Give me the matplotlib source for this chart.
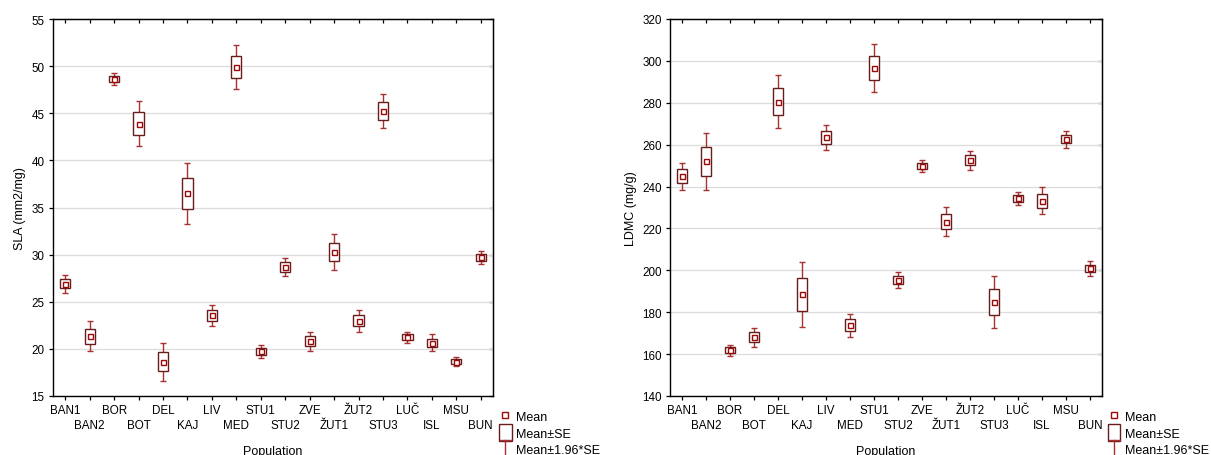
import matplotlib
matplotlib.use("Agg")
import matplotlib.pyplot as plt
import numpy as np
from matplotlib.legend_handler import HandlerBase
from matplotlib.lines import Line2D
from matplotlib.patches import Rectangle

populations = ["BAN1", "BAN2", "BOR", "BOT", "DEL", "KAJ", "LIV", "MED", "STU1",
               "STU2", "ZVE", "ŽUT1", "ŽUT2", "STU3", "LUČ", "ISL", "MSU", "BUN"]
sla_mean = [26.9, 21.35, 48.6, 43.9, 18.65, 36.5, 23.55, 49.9, 19.75,
            28.7, 20.8, 30.3, 23.0, 45.25, 21.25, 20.65, 18.65, 29.7]
sla_se = [0.47, 0.8, 0.33, 1.23, 1.03, 1.66, 0.56, 1.2, 0.35,
          0.5, 0.52, 0.96, 0.6, 0.92, 0.3, 0.45, 0.24, 0.36]
ldmc_mean = [245.0, 252.0, 161.8, 168.0, 280.5, 188.5, 263.5, 173.8, 296.5,
             195.5, 249.8, 223.3, 252.6, 185.0, 234.3, 233.3, 262.7, 200.9]
ldmc_se = [3.3, 7.0, 1.4, 2.4, 6.4, 7.85, 3.05, 2.85, 5.85,
           2.0, 1.52, 3.52, 2.3, 6.3, 1.5, 3.35, 2.07, 1.85]
ci_factor = 1.96

sla_ticks = [15, 20, 25, 30, 35, 40, 45, 50, 55]
ldmc_ticks = [140, 160, 180, 200, 220, 240, 260, 280, 300, 320]

BOX_C = "#6a1c1c"
WHISK_C = "#a83232"
MEAN_C = "#9b0a0a"
FS = 8.4
FS_L = 9.0

plt.rcParams["font.family"] = ["Liberation Sans", "DejaVu Sans"]
plt.rcParams["font.size"] = FS

W, H = 1211, 456
fig = plt.figure(figsize=(W / 100, H / 100), dpi=100)


class HandlerMean(HandlerBase):
    def create_artists(self, legend, orig, xd, yd, w, h, fs, trans):
        s = 4.2
        r = Rectangle((w / 2 - s / 2, h / 2 - s / 2 + 1), s, s, facecolor="white",
                      edgecolor=MEAN_C, lw=1.0, transform=trans)
        return [r]


class HandlerBox(HandlerBase):
    def create_artists(self, legend, orig, xd, yd, w, h, fs, trans):
        bw, bh = 9.0, 12.0
        r = Rectangle((w / 2 - bw / 2, h / 2 - bh / 2), bw, bh, facecolor="white",
                      edgecolor=BOX_C, lw=1.0, transform=trans)
        return [r]


class HandlerT(HandlerBase):
    def create_artists(self, legend, orig, xd, yd, w, h, fs, trans):
        top = h / 2 + 6
        l1 = Line2D([w / 2, w / 2], [h / 2 - 8, top], color=WHISK_C, lw=1.0, transform=trans)
        l2 = Line2D([w / 2 - 4, w / 2 + 4], [top, top], color=WHISK_C, lw=1.0, transform=trans)
        return [l1, l2]


def panel(rect, means, ses, ticks, ylabel):
    ax = fig.add_axes(rect)
    x = np.arange(len(populations))
    m = np.array(means)
    se = np.array(ses)
    ax.errorbar(x, m, yerr=ci_factor * se, fmt="none", ecolor=WHISK_C,
                elinewidth=1.0, capsize=2.2, capthick=1.0, zorder=2)
    ax.bar(x, 2 * se, bottom=m - se, width=0.42, facecolor="white",
           edgecolor=BOX_C, linewidth=1.0, zorder=3)
    ax.plot(x, m, ls="none", marker="s", ms=3.6, mfc="white", mec=MEAN_C,
            mew=1.0, zorder=4)
    ax.set_xlim(-0.5, len(populations) - 0.5)
    ax.set_ylim(ticks[0], ticks[-1])
    ax.set_yticks(ticks)
    ax.yaxis.grid(True, color="#dcdcdc", lw=0.9)
    ax.set_axisbelow(True)
    ax.set_xticks(x[0::2])
    ax.set_xticklabels(populations[0::2])
    ax.set_xticks(x[1::2], minor=True)
    ax.set_xticklabels(populations[1::2], minor=True)
    ax.tick_params(axis="x", which="both", direction="out", length=3, width=0.9,
                   labelsize=FS, colors="black")
    ax.tick_params(axis="x", which="major", pad=3)
    ax.tick_params(axis="x", which="minor", pad=13.5)
    ax.tick_params(axis="y", direction="out", length=3, width=0.9, labelsize=FS, pad=3)
    for sp in ax.spines.values():
        sp.set_linewidth(1.0)
        sp.set_color("black")
    sx = ax.secondary_xaxis("top")
    sx.set_xticks(x)
    sx.tick_params(direction="in", length=3, width=0.9, labeltop=False)
    sy = ax.secondary_yaxis("right")
    sy.set_yticks(ticks)
    sy.tick_params(direction="in", length=3, width=0.9, labelright=False)
    ax.set_ylabel(ylabel, fontsize=FS_L, labelpad=4)
    ax.set_xlabel("Population", fontsize=FS_L)
    ax.xaxis.set_label_coords(0.5, -0.13)
    handles = [object(), object(), object()]
    ax.legend(handles, ["Mean", "Mean±SE", "Mean±1.96*SE"],
              handler_map={handles[0]: HandlerMean(), handles[1]: HandlerBox(),
                           handles[2]: HandlerT()},
              loc="upper left", bbox_to_anchor=(1.016, -0.041), frameon=False,
              handlelength=0.85, handletextpad=0.42, labelspacing=0.33,
              borderpad=0, borderaxespad=0, fontsize=FS_L)
    return ax


bottom = (H - 397) / H
height = 377 / H
panel([53 / W, bottom, 440 / W, height], sla_mean, sla_se, sla_ticks, "SLA (mm2/mg)")
panel([670 / W, bottom, 432 / W, height], ldmc_mean, ldmc_se, ldmc_ticks, "LDMC (mg/g)")

fig.savefig("out.png", dpi=100)
